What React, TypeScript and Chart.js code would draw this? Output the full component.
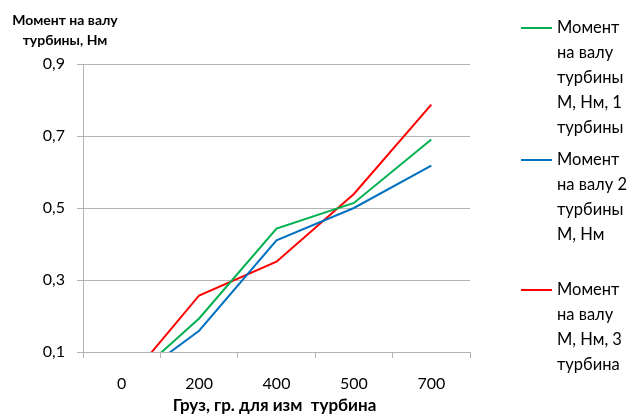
import React, { useEffect, useRef } from "react";
import { Chart, registerables } from "chart.js";

Chart.register(...registerables);

const categories = ["0", "200", "400", "500", "700"];
const series1 = [0, 0.193, 0.443, 0.514, 0.69];
const series2 = [0, 0.159, 0.41, 0.5, 0.618];
const series3 = [0, 0.257, 0.351, 0.539, 0.787];

const label1 = ["Момент", "на валу", "турбины", "М, Нм, 1", "турбины"];
const label2 = ["Момент", "на валу 2", "турбины", "М, Нм"];
const label3 = ["Момент", "на валу", "М, Нм, 3", "турбина"];

const yTitle = ["Момент на валу", "турбины, Нм"];
const xTitle = "Груз, гр. для изм  турбина";

const FONT = "Lato, 'Open Sans', sans-serif";
const GRID = "#b3b3b3";

export default function App() {
  const ref = useRef<HTMLCanvasElement | null>(null);

  useEffect(() => {
    document.body.style.margin = "0";
    const canvas = ref.current;
    if (!canvas) return;

    const legendLines = [label1, label2, label3];
    const legendTop = [28, 160, 290];

    const customText = {
      id: "customText",
      afterDraw(chart: any) {
        const ctx = chart.ctx;
        ctx.save();
        // Y title
        ctx.fillStyle = "#000";
        ctx.font = `bold 14px ${FONT}`;
        ctx.textAlign = "center";
        ctx.textBaseline = "middle";
        yTitle.forEach((t, i) => ctx.fillText(t, 65, 20 + i * 20));
        // X title
        ctx.font = `bold 17px ${FONT}`;
        ctx.fillText(xTitle, (chart.chartArea.left + chart.chartArea.right) / 2 - 2, 406);
        // Legend
        ctx.textAlign = "left";
        ctx.font = `16.5px ${FONT}`;
        chart.data.datasets.forEach((ds: any, di: number) => {
          const y0 = legendTop[di];
          ctx.strokeStyle = ds.borderColor;
          ctx.lineWidth = 2;
          ctx.beginPath();
          ctx.moveTo(521, y0);
          ctx.lineTo(552, y0);
          ctx.stroke();
          ctx.fillStyle = "#000";
          legendLines[di].forEach((line, li) => {
            ctx.fillText(line, 557, y0 + li * 25);
          });
        });
        ctx.restore();
      },
    };

    const chart = new Chart(canvas, {
      type: "line",
      data: {
        labels: categories,
        datasets: [
          {
            label: label1.join(" "),
            data: series1,
            borderColor: "#00b050",
            backgroundColor: "#00b050",
            borderWidth: 2,
            pointRadius: 0,
            tension: 0,
            clip: 0,
          },
          {
            label: label2.join(" "),
            data: series2,
            borderColor: "#0070c0",
            backgroundColor: "#0070c0",
            borderWidth: 2,
            pointRadius: 0,
            tension: 0,
            clip: 0,
          },
          {
            label: label3.join(" "),
            data: series3,
            borderColor: "#ff0000",
            backgroundColor: "#ff0000",
            borderWidth: 2,
            pointRadius: 0,
            tension: 0,
            clip: 0,
          },
        ],
      },
      options: {
        responsive: false,
        animation: false,
        layout: { padding: { top: 64, right: 157, left: 0, bottom: 0 } },
        plugins: {
          legend: { display: false },
          tooltip: { enabled: false },
          title: { display: false },
        },
        scales: {
          x: {
            type: "category",
            offset: true,
            grid: {
              offset: true,
              drawOnChartArea: false,
              tickLength: 6,
              color: GRID,
            },
            border: { color: GRID },
            ticks: {
              color: "#000",
              padding: 16,
              maxRotation: 0,
              font: { family: FONT, size: 16 },
            },
            afterFit(scale: any) {
              scale.height = 65;
            },
          },
          y: {
            min: 0.1,
            max: 0.9,
            grid: { color: GRID, tickLength: 6 },
            border: { color: GRID },
            ticks: {
              stepSize: 0.2,
              color: "#000",
              padding: 12,
              font: { family: FONT, size: 16 },
              callback: (v: any) => Number(v).toFixed(1).replace(".", ","),
            },
            afterFit(scale: any) {
              scale.width = 83;
            },
          },
        },
      },
      plugins: [customText],
    });

    return () => chart.destroy();
  }, []);

  return (
    <div style={{ width: 627, height: 417 }}>
      <canvas ref={ref} width={627} height={417} />
    </div>
  );
}
